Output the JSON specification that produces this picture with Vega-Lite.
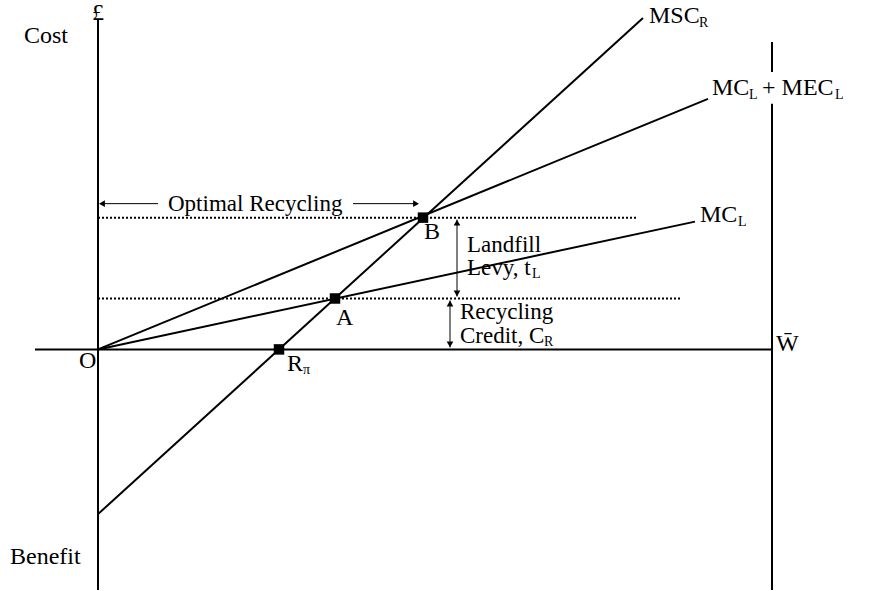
{
  "$schema": "https://vega.github.io/schema/vega-lite/v6.json",
  "width": 888,
  "height": 591,
  "autosize": {"type": "fit", "contains": "padding"},
  "padding": 0,
  "background": "white",
  "config": {"view": {"stroke": null}},
  "datasets": {
    "solid": [
      {"x": -63, "y": 0, "x2": 674, "y2": 0},
      {"x": 0, "y": 330, "x2": 0, "y2": -241},
      {"x": 674, "y": 308, "x2": 674, "y2": 278},
      {"x": 674, "y": 246, "x2": 674, "y2": -241},
      {"x": 0, "y": -165, "x2": 545, "y2": 332},
      {"x": 0, "y": 0, "x2": 610, "y2": 251},
      {"x": 0, "y": 0, "x2": 597, "y2": 128}
    ],
    "dotted": [
      {"x": 0, "y": 132, "x2": 539, "y2": 132},
      {"x": 0, "y": 51, "x2": 582, "y2": 51}
    ],
    "thin": [
      {"x": 2, "y": 146, "x2": 60, "y2": 146},
      {"x": 255, "y": 146, "x2": 320, "y2": 146},
      {"x": 359, "y": 130, "x2": 359, "y2": 53},
      {"x": 352, "y": 49, "x2": 352, "y2": 2}
    ],
    "heads": [
      {"x": 4, "y": 146, "dir": "left"},
      {"x": 318, "y": 146, "dir": "right"},
      {"x": 359, "y": 127, "dir": "up"},
      {"x": 359, "y": 56, "dir": "down"},
      {"x": 352, "y": 46, "dir": "up"},
      {"x": 352, "y": 5, "dir": "down"}
    ],
    "points": [
      {"x": 181, "y": 0, "name": "R"},
      {"x": 237, "y": 51, "name": "A"},
      {"x": 325, "y": 132, "name": "B"}
    ],
    "labels": [
      {"x": -6, "y": 337, "text": "£", "kind": "main"},
      {"x": -74, "y": 314, "text": "Cost", "kind": "main"},
      {"x": -88, "y": -208, "text": "Benefit", "kind": "main"},
      {"x": -19, "y": -12, "text": "O", "kind": "main"},
      {"x": 551, "y": 334, "text": "MSC", "kind": "main"},
      {"x": 601, "y": 327, "text": "R", "kind": "sub"},
      {"x": 614, "y": 262, "text": "MC", "kind": "main"},
      {"x": 651, "y": 255, "text": "L", "kind": "sub"},
      {"x": 664, "y": 262, "text": "+ MEC", "kind": "main"},
      {"x": 737, "y": 255, "text": "L", "kind": "sub"},
      {"x": 602, "y": 135, "text": "MC", "kind": "main"},
      {"x": 640, "y": 128, "text": "L", "kind": "sub"},
      {"x": 678, "y": 5, "text": "W̄", "kind": "main"},
      {"x": 189, "y": -15, "text": "R", "kind": "main"},
      {"x": 205, "y": -21, "text": "π", "kind": "sub"},
      {"x": 238, "y": 31, "text": "A", "kind": "main"},
      {"x": 326, "y": 118, "text": "B", "kind": "main"},
      {"x": 70, "y": 146, "text": "Optimal Recycling", "kind": "note"},
      {"x": 369, "y": 105, "text": "Landfill", "kind": "note"},
      {"x": 369, "y": 82, "text": "Levy, t", "kind": "note"},
      {"x": 434, "y": 76, "text": "L", "kind": "sub"},
      {"x": 362, "y": 37, "text": "Recycling", "kind": "note"},
      {"x": 362, "y": 13, "text": "Credit, C", "kind": "note"},
      {"x": 446, "y": 7, "text": "R", "kind": "sub"}
    ]
  },
  "layer": [
    {
      "data": {"name": "solid"},
      "mark": {"type": "rule", "strokeWidth": 2, "color": "black"},
      "encoding": {
        "x": {"field": "x", "type": "quantitative", "scale": {"domain": [-98, 790], "nice": false, "zero": false}, "axis": null},
        "y": {"field": "y", "type": "quantitative", "scale": {"domain": [-241, 350], "nice": false, "zero": false}, "axis": null},
        "x2": {"field": "x2"},
        "y2": {"field": "y2"}
      }
    },
    {
      "data": {"name": "dotted"},
      "mark": {"type": "rule", "strokeWidth": 2, "strokeDash": [2, 2], "color": "black"},
      "encoding": {
        "x": {"field": "x", "type": "quantitative"},
        "y": {"field": "y", "type": "quantitative"},
        "x2": {"field": "x2"},
        "y2": {"field": "y2"}
      }
    },
    {
      "data": {"name": "thin"},
      "mark": {"type": "rule", "strokeWidth": 1, "color": "black"},
      "encoding": {
        "x": {"field": "x", "type": "quantitative"},
        "y": {"field": "y", "type": "quantitative"},
        "x2": {"field": "x2"},
        "y2": {"field": "y2"}
      }
    },
    {
      "data": {"name": "heads"},
      "mark": {"type": "point", "filled": true, "color": "black", "opacity": 1, "size": 45},
      "encoding": {
        "x": {"field": "x", "type": "quantitative"},
        "y": {"field": "y", "type": "quantitative"},
        "shape": {"field": "dir", "type": "nominal", "legend": null,
          "scale": {"domain": ["up", "down", "left", "right"], "range": ["triangle-up", "triangle-down", "triangle-left", "triangle-right"]}}
      }
    },
    {
      "data": {"name": "points"},
      "mark": {"type": "point", "shape": "square", "filled": true, "color": "black", "opacity": 1, "size": 110},
      "encoding": {
        "x": {"field": "x", "type": "quantitative"},
        "y": {"field": "y", "type": "quantitative"}
      }
    },
    {
      "data": {"name": "labels"},
      "transform": [{"filter": "datum.kind === 'main'"}],
      "mark": {"type": "text", "font": "Liberation Serif", "fontSize": 24, "align": "left", "baseline": "middle", "color": "black"},
      "encoding": {
        "x": {"field": "x", "type": "quantitative"},
        "y": {"field": "y", "type": "quantitative"},
        "text": {"field": "text"}
      }
    },
    {
      "data": {"name": "labels"},
      "transform": [{"filter": "datum.kind === 'note'"}],
      "mark": {"type": "text", "font": "Liberation Serif", "fontSize": 23, "align": "left", "baseline": "middle", "color": "black"},
      "encoding": {
        "x": {"field": "x", "type": "quantitative"},
        "y": {"field": "y", "type": "quantitative"},
        "text": {"field": "text"}
      }
    },
    {
      "data": {"name": "labels"},
      "transform": [{"filter": "datum.kind === 'sub'"}],
      "mark": {"type": "text", "font": "Liberation Serif", "fontSize": 14, "align": "left", "baseline": "middle", "color": "black"},
      "encoding": {
        "x": {"field": "x", "type": "quantitative"},
        "y": {"field": "y", "type": "quantitative"},
        "text": {"field": "text"}
      }
    }
  ]
}
